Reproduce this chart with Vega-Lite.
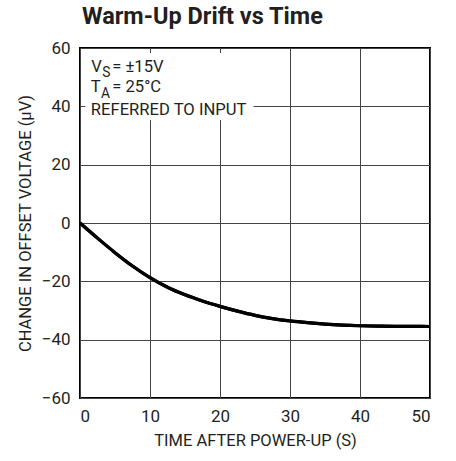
{
  "$schema": "https://vega.github.io/schema/vega-lite/v6.json",
  "width": 350,
  "height": 350,
  "autosize": {"type": "none"},
  "padding": {"left": 80, "top": 48, "right": 26, "bottom": 63},
  "background": "white",
  "title": {
    "text": "Warm-Up Drift vs Time",
    "anchor": "start",
    "frame": "group",
    "font": "Roboto",
    "fontSize": 23.5,
    "fontWeight": "bold",
    "color": "#231f20",
    "baseline": "alphabetic",
    "offset": 13,
    "dx": 2,
    "dy": 21
  },
  "config": {
    "view": {"stroke": "#000000", "strokeWidth": 2},
    "axis": {
      "domain": false,
      "ticks": false,
      "grid": true,
      "gridColor": "#444444",
      "gridWidth": 1,
      "gridOpacity": 1,
      "labelFont": "Roboto",
      "labelFontSize": 17,
      "labelColor": "#231f20",
      "titleFont": "Roboto",
      "titleFontSize": 16.5,
      "titleFontWeight": "normal",
      "titleColor": "#231f20",
      "labelPadding": 10
    }
  },
  "datasets": {
    "curve": [
      {"t": 0, "v": 0},
      {"t": 2.5, "v": -5.19},
      {"t": 5, "v": -10.16},
      {"t": 7.5, "v": -14.74},
      {"t": 10, "v": -18.75},
      {"t": 12.5, "v": -22.04},
      {"t": 15, "v": -24.63},
      {"t": 17.5, "v": -26.75},
      {"t": 20, "v": -28.58},
      {"t": 22.5, "v": -30.23},
      {"t": 25, "v": -31.66},
      {"t": 27.5, "v": -32.76},
      {"t": 30, "v": -33.57},
      {"t": 32.5, "v": -34.18},
      {"t": 35, "v": -34.66},
      {"t": 37.5, "v": -35.0},
      {"t": 40, "v": -35.22},
      {"t": 42.5, "v": -35.36},
      {"t": 45, "v": -35.43},
      {"t": 47.5, "v": -35.47},
      {"t": 50, "v": -35.48}
    ],
    "notes": [
      {"t": 1.6, "v": 51.67, "text": "V"},
      {"t": 4.61, "v": 51.67, "text": "= ±15V"},
      {"t": 1.55, "v": 44.81, "text": "T"},
      {"t": 4.61, "v": 44.81, "text": "= 25°C"},
      {"t": 1.55, "v": 37.03, "text": "REFERRED TO INPUT"}
    ],
    "subs": [
      {"t": 3.19, "v": 50.06, "text": "S"},
      {"t": 3.0, "v": 42.96, "text": "A"}
    ]
  },
  "layer": [
    {
      "data": {"name": "curve"},
      "mark": {"type": "line", "color": "#000000", "strokeWidth": 3.2, "interpolate": "monotone"},
      "encoding": {
        "x": {
          "field": "t",
          "type": "quantitative",
          "scale": {"domain": [0, 50], "nice": false},
          "axis": {"values": [0, 10, 20, 30, 40, 50], "title": "TIME AFTER POWER-UP (S)", "titlePadding": 8}
        },
        "y": {
          "field": "v",
          "type": "quantitative",
          "scale": {"domain": [-60, 60], "nice": false},
          "axis": {"values": [-60, -40, -20, 0, 20, 40, 60], "title": "CHANGE IN OFFSET VOLTAGE (µV)", "titlePadding": 8}
        }
      }
    },
    {
      "data": {"values": [{}]},
      "mark": {"type": "rect", "fill": "white", "stroke": null},
      "encoding": {
        "x": {"datum": 0.75, "type": "quantitative"},
        "x2": {"datum": 24.8},
        "y": {"datum": 35.3, "type": "quantitative"},
        "y2": {"datum": 58.3}
      }
    },
    {
      "data": {"name": "curve"},
      "mark": {"type": "line", "color": "#000000", "strokeWidth": 3.2, "interpolate": "monotone"},
      "encoding": {
        "x": {"field": "t", "type": "quantitative"},
        "y": {"field": "v", "type": "quantitative"}
      }
    },
    {
      "data": {"name": "notes"},
      "mark": {"type": "text", "align": "left", "baseline": "alphabetic", "font": "Roboto", "fontSize": 16.6, "color": "#231f20"},
      "encoding": {
        "x": {"field": "t", "type": "quantitative"},
        "y": {"field": "v", "type": "quantitative"},
        "text": {"field": "text"}
      }
    },
    {
      "data": {"name": "subs"},
      "mark": {"type": "text", "align": "left", "baseline": "alphabetic", "font": "Roboto", "fontSize": 13.8, "color": "#231f20"},
      "encoding": {
        "x": {"field": "t", "type": "quantitative"},
        "y": {"field": "v", "type": "quantitative"},
        "text": {"field": "text"}
      }
    }
  ]
}
